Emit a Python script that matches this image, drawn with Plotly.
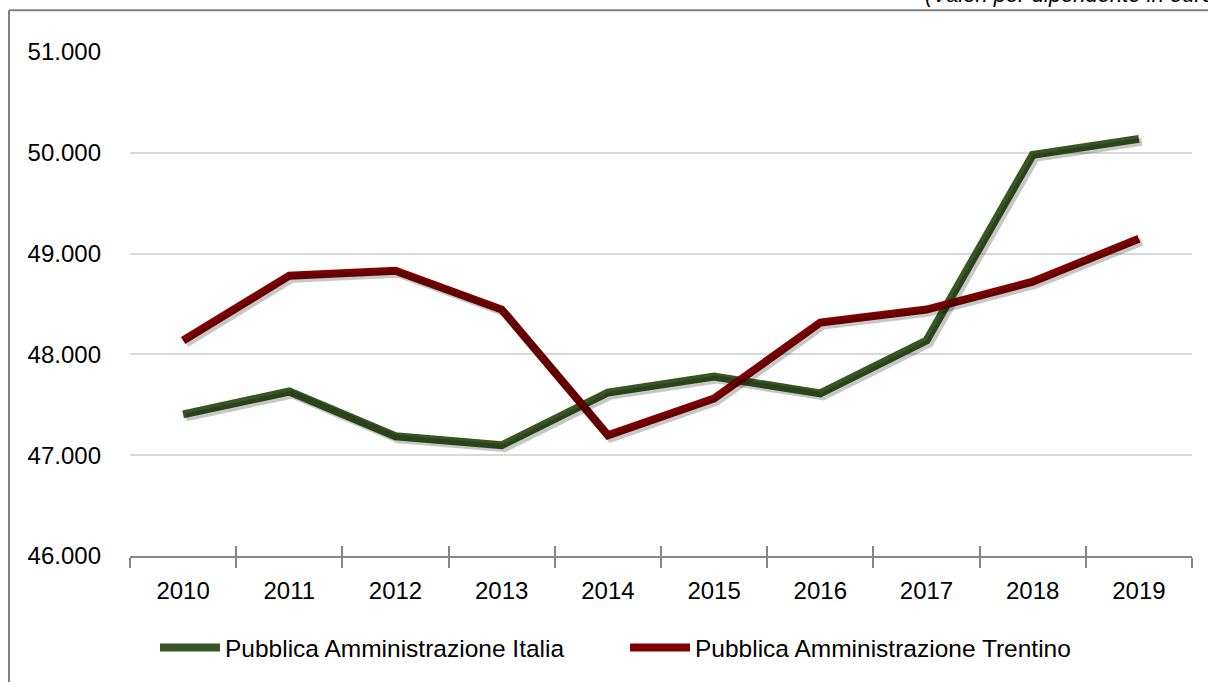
import plotly.graph_objects as go

years = ["2010", "2011", "2012", "2013", "2014", "2015", "2016", "2017", "2018", "2019"]
italia = [47405, 47632, 47188, 47099, 47622, 47781, 47613, 48138, 49980, 50138]
trentino = [48138, 48781, 48830, 48445, 47198, 47563, 48316, 48445, 48721, 49148]
y_ticks = [46000, 47000, 48000, 49000, 50000, 51000]
y_labels = ["46.000", "47.000", "48.000", "49.000", "50.000", "51.000"]

GREEN = "#375623"
RED = "#7F0000"
FONT = "Liberation Sans"

W, H = 1208, 682
ML, MR, MT, MB = 130, 13, 52, 121
PW = W - ML - MR
PH = H - MT - MB
SH = 3  # shadow offset px


def px_x(px):
    return (px - ML) / PW


def px_y(py):
    return (H - MB - py) / PH


fig = go.Figure()

# shadows
for vals in (italia, trentino):
    fig.add_trace(go.Scatter(x=years, y=vals, mode="lines", xaxis="x2", yaxis="y2",
                             line=dict(color="rgba(0,0,0,0.22)", width=8),
                             showlegend=False, hoverinfo="skip"))

fig.add_trace(go.Scatter(x=years, y=italia, mode="lines", name="Pubblica Amministrazione Italia",
                         line=dict(color=GREEN, width=8)))
fig.add_trace(go.Scatter(x=years, y=trentino, mode="lines", name="Pubblica Amministrazione Trentino",
                         line=dict(color=RED, width=8)))

xd_main = [0, (PW - SH) / PW]
xd_sh = [SH / PW, 1]
yd_main = [SH / PH, 1]
yd_sh = [0, (PH - SH) / PH]

common_x = dict(type="category", categoryorder="array", categoryarray=years,
                range=[-0.5, 9.5])
fig.update_layout(
    width=W, height=H,
    margin=dict(l=ML, r=MR, t=MT, b=MB),
    paper_bgcolor="white", plot_bgcolor="rgba(0,0,0,0)",
    font=dict(family=FONT, size=24, color="black"),
    xaxis=dict(domain=xd_main, **common_x, tickson="boundaries", ticks="outside",
               ticklen=10, tickwidth=2, tickcolor="#868686", showline=True,
               linecolor="#868686", linewidth=2, showgrid=False,
               tickfont=dict(size=24), ticklabelstandoff=12, anchor="y"),
    yaxis=dict(domain=yd_main, range=[46000, 51000], tickvals=y_ticks, ticktext=y_labels,
               showgrid=True, gridcolor="#d9d9d9", gridwidth=2, zeroline=False,
               showline=False, ticks="", tickfont=dict(size=24), ticklabelstandoff=28,
               anchor="x"),
    xaxis2=dict(domain=xd_sh, **common_x, visible=False, anchor="y2"),
    yaxis2=dict(domain=yd_sh, range=[46000, 51000], visible=False, anchor="x2"),
    xaxis3=dict(**common_x, overlaying="x", anchor="y", tickson="boundaries",
                ticks="inside", ticklen=10, tickwidth=2, tickcolor="#868686",
                showticklabels=False, showgrid=False, showline=False),
    legend=dict(orientation="h", x=px_x(155), xanchor="left", y=px_y(650),
                yanchor="middle", font=dict(size=24.5), itemwidth=60,
                entrywidth=395, entrywidthmode="pixels",
                bgcolor="rgba(0,0,0,0)"),
    showlegend=True,
)
# dummy trace to activate xaxis3
fig.add_trace(go.Scatter(x=years, y=[None] * len(years), xaxis="x3", yaxis="y",
                         showlegend=False, hoverinfo="skip"))

# chart border (top and left edges; right/bottom lie outside the picture)
fig.add_shape(type="line", xref="paper", yref="paper",
              x0=px_x(9), x1=px_x(W + 20), y0=px_y(10), y1=px_y(10),
              line=dict(color="#7f7f7f", width=2), layer="below")
fig.add_shape(type="line", xref="paper", yref="paper",
              x0=px_x(9), x1=px_x(9), y0=px_y(10), y1=px_y(H + 20),
              line=dict(color="#7f7f7f", width=2), layer="below")

fig.add_annotation(xref="paper", yref="paper", x=px_x(923), y=px_y(-6),
                   xanchor="left", yanchor="middle", showarrow=False,
                   text="<i>(Valori per dipendente in euro)</i>", font=dict(size=22))

fig.write_html("out.html", config={"displayModeBar": False},
               post_script="document.body.style.margin='0';document.body.style.overflow='hidden';")
